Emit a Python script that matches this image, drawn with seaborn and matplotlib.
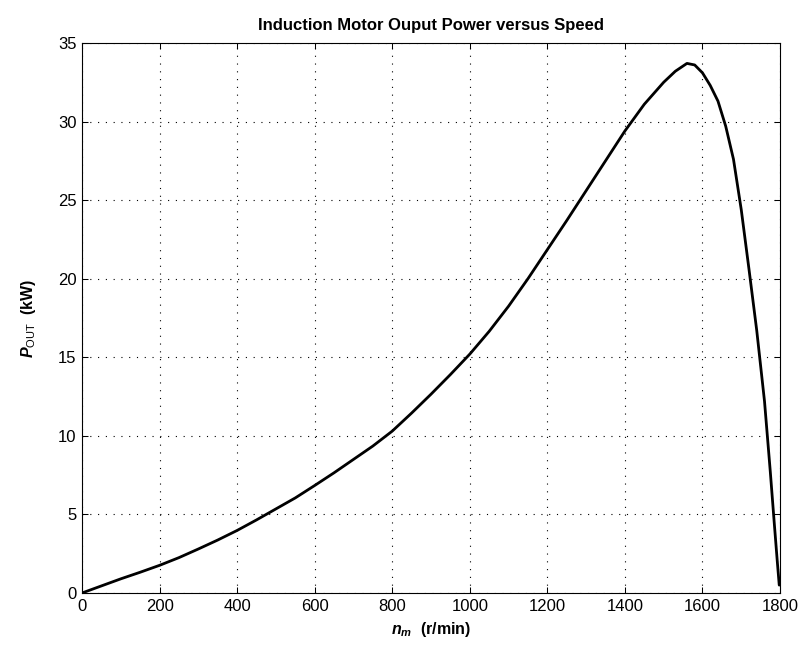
import numpy as np
import pandas as pd
import seaborn as sns
import matplotlib.pyplot as plt

# speed (r/min) and output power (kW)
speed = [0, 50, 100, 150, 200, 250, 300, 350, 400, 450, 500, 550, 600, 650, 700, 750,
         800, 850, 900, 950, 1000, 1050, 1100, 1150, 1200, 1250, 1300, 1350, 1400,
         1450, 1500, 1530, 1560, 1580, 1600, 1620, 1640, 1660, 1680, 1700, 1720,
         1740, 1760, 1775, 1785, 1793, 1798]
power = [0, 0.45, 0.9, 1.32, 1.76, 2.25, 2.8, 3.37, 3.98, 4.65, 5.35, 6.05, 6.84, 7.65,
         8.5, 9.35, 10.3, 11.45, 12.65, 13.9, 15.2, 16.65, 18.25, 20.0, 21.85, 23.7, 25.6,
         27.5, 29.4, 31.1, 32.5, 33.2, 33.7, 33.6, 33.1, 32.3, 31.3, 29.7, 27.6, 24.4,
         20.6, 16.7, 12.2, 7.7, 4.5, 2.0, 0.5]
xticks = [0, 200, 400, 600, 800, 1000, 1200, 1400, 1600, 1800]
yticks = [0, 5, 10, 15, 20, 25, 30, 35]

df = pd.DataFrame({'speed': speed, 'power': power})

sns.set_style('ticks')
plt.rcParams['font.family'] = ['Liberation Sans', 'DejaVu Sans']
plt.rcParams['mathtext.fontset'] = 'custom'
plt.rcParams['mathtext.it'] = 'Liberation Sans:italic:bold'
plt.rcParams['mathtext.rm'] = 'Liberation Sans'

fig = plt.figure(figsize=(8.01, 6.54), dpi=100)
ax = fig.add_axes([0.1024, 0.0933, 0.8714, 0.841])

sns.lineplot(data=df, x='speed', y='power', color='k', linewidth=2.0, ax=ax)

ax.set_xlim(0, 1800)
ax.set_ylim(0, 35)
ax.set_xticks(xticks)
ax.set_yticks(yticks)
ax.grid(True, color='k', linestyle=(0, (1, 6)), linewidth=0.8)
ax.tick_params(direction='in', top=True, right=True, length=4, width=0.75,
               labelsize=12, colors='k', pad=4)
for s in ax.spines.values():
    s.set_visible(True)
    s.set_linewidth(0.8)
    s.set_color('k')

ax.set_title('Induction Motor Ouput Power versus Speed', fontsize=12,
             fontweight='bold', pad=9, color='k')
ax.set_xlabel(r'$\mathit{n}_{\mathit{m}}$  (r/min)', fontsize=11.5, fontweight='bold',
              labelpad=5, color='k')
ax.set_ylabel(r'$\mathit{P}_{\mathrm{OUT}}$  (kW)', fontsize=11.5, fontweight='bold',
              labelpad=14, color='k')

fig.savefig('out.png', dpi=100)
